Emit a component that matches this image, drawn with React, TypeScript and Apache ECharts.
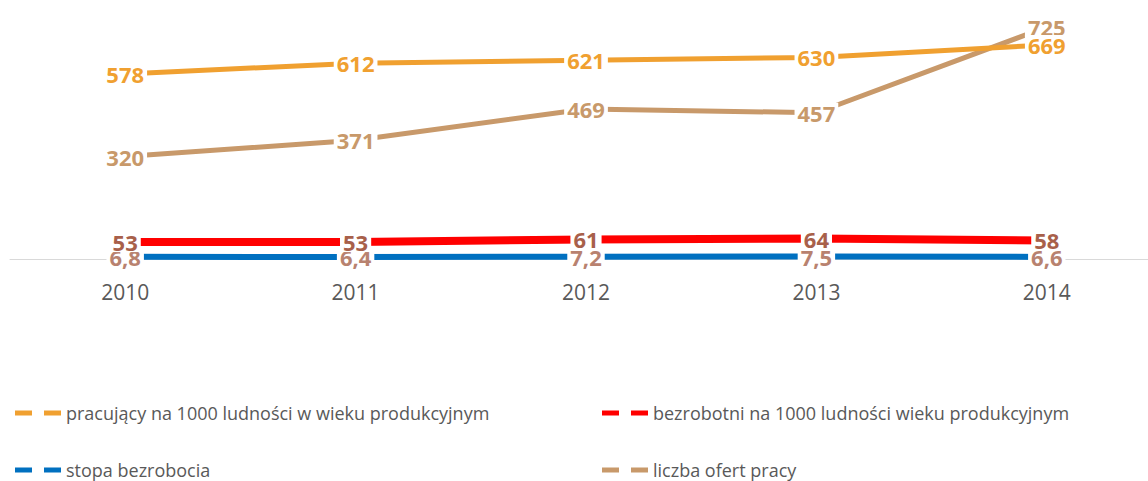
import React, { useEffect, useRef } from "react";
import * as echarts from "echarts";

const years = ["2010", "2011", "2012", "2013", "2014"];
const pracujacy = [578, 612, 621, 630, 669];
const bezrobotni = [53, 53, 61, 64, 58];
const stopa = [6.8, 6.4, 7.2, 7.5, 6.6];
const oferty = [320, 371, 469, 457, 725];

const names = [
  "pracujący na 1000 ludności w wieku produkcyjnym",
  "bezrobotni na 1000 ludności wieku produkcyjnym",
  "stopa bezrobocia",
  "liczba ofert pracy",
];

const FONT = "'Open Sans', 'DejaVu Sans', sans-serif";
const dashIcon = "path://M0,0h17v5h-17z M29,0h17v5h-17z";

function fmt(v: number) {
  return String(v).replace(".", ",");
}

function mkLabel(color: string) {
  return {
    show: true,
    position: "inside",
    color,
    fontFamily: FONT,
    fontWeight: "bold",
    fontSize: 22,
    lineHeight: 20,
    backgroundColor: "#ffffff",
    padding: [0, 3],
    formatter: (p: any) => fmt(p.value),
  };
}

function mkLegend(name: string, left: number, top: number) {
  return {
    data: [name],
    left,
    top,
    padding: 0,
    icon: dashIcon,
    itemWidth: 46,
    itemHeight: 5,
    itemGap: 0,
    textStyle: { color: "#595959", fontFamily: FONT, fontSize: 18, lineHeight: 24 },
  };
}

export default function App() {
  const ref = useRef<HTMLDivElement>(null);
  useEffect(() => {
    if (!ref.current) return;
    const chart = echarts.init(ref.current, undefined, { renderer: "svg" });
    chart.setOption({
      animation: false,
      grid: { left: 10, width: 1152, top: 3, height: 256 },
      xAxis: {
        type: "category",
        data: years,
        boundaryGap: true,
        axisLine: { lineStyle: { color: "#D9D9D9", width: 1 } },
        axisTick: { show: false },
        axisLabel: { color: "#595959", fontFamily: FONT, fontSize: 21, margin: 22 },
      },
      yAxis: { type: "value", min: 0, max: 800, show: false, splitLine: { show: false } },
      legend: [
        mkLegend(names[0], 15, 401),
        mkLegend(names[1], 602, 401),
        mkLegend(names[2], 15, 458),
        mkLegend(names[3], 602, 458),
      ],
      series: [
        {
          name: names[2],
          type: "line",
          data: stopa,
          symbol: "circle",
          symbolSize: 0,
          color: "#0070C0",
          lineStyle: { color: "#0070C0", width: 6 },
          label: mkLabel("#B8826F"),
          z: 2,
        },
        {
          name: names[1],
          type: "line",
          data: bezrobotni,
          symbol: "circle",
          symbolSize: 0,
          color: "#FF0000",
          lineStyle: { color: "#FF0000", width: 8 },
          label: mkLabel("#A8604A"),
          z: 3,
        },
        {
          name: names[3],
          type: "line",
          data: oferty,
          symbol: "circle",
          symbolSize: 0,
          color: "#C8996A",
          lineStyle: { color: "#C8996A", width: 5 },
          label: mkLabel("#C8996A"),
          z: 4,
        },
        {
          name: names[0],
          type: "line",
          data: pracujacy,
          symbol: "circle",
          symbolSize: 0,
          color: "#F0A030",
          lineStyle: { color: "#F0A030", width: 5 },
          label: mkLabel("#F0A030"),
          z: 5,
        },
      ],
    });
    return () => chart.dispose();
  }, []);
  return (
    <div
      ref={ref}
      style={{ position: "fixed", left: 0, top: 0, width: 1170, height: 481, background: "#fff" }}
    />
  );
}
